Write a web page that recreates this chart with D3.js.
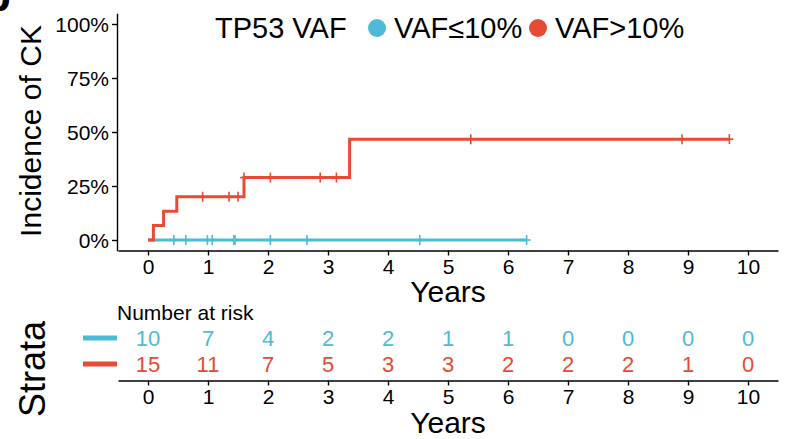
<!DOCTYPE html>
<html>
<head>
<meta charset="utf-8">
<script src="https://cdn.jsdelivr.net/npm/d3@7"></script>
<style>
  body { margin: 0; background: #fff; }
  svg { display: block; font-family: "Liberation Sans", Arial, sans-serif; }
  .axis path, .axis line { stroke: #000; stroke-width: 1.4; }
  .axis text { fill: #000; font-size: 21px; font-family: "Liberation Sans", Arial, sans-serif; }
</style>
</head>
<body>
<svg id="viz"></svg>
<script>
// tick labels
const xTicks = [0, 1, 2, 3, 4, 5, 6, 7, 8, 9, 10]
const yTicks = [0, 0.25, 0.5, 0.75, 1]

const groups = ["VAF≤10%", "VAF>10%"]
const colors = ["#4DBBD5", "#E64B35"]

// step curves (time in years, cumulative incidence)
const lowTime = [0, 6.31]
const lowInc = [0, 0]
const highTime = [0, 0.09, 0.26, 0.48, 1.6, 3.36, 9.69]
const highInc = [0, 0.067, 0.133, 0.2, 0.289, 0.467, 0.467]

// censor marks
const lowCensor = [0.43, 0.63, 0.99, 1.07, 1.43, 1.45, 2.04, 2.65, 4.53, 6.31]
const highCensor = [0.91, 1.35, 1.5, 1.6, 2.04, 2.87, 3.14, 5.38, 8.9, 9.69]

// number at risk
const lowRisk = [10, 7, 4, 2, 2, 1, 1, 0, 0, 0, 0]
const highRisk = [15, 11, 7, 5, 3, 3, 2, 2, 2, 1, 0]

const W = 785, H = 439
const svg = d3.select("#viz").attr("width", W).attr("height", H)

const x = d3.scaleLinear().domain([-0.5, 10.5]).range([118, 778])
const y = d3.scaleLinear().domain([-0.05, 1.05]).range([250.8, 13.2])

// panel letter, mostly cut off
svg.append("text")
  .attr("x", -16).attr("y", 11)
  .attr("font-size", 44).attr("font-weight", "bold")
  .text("b")

// axes
svg.append("g").attr("class", "axis")
  .attr("transform", "translate(117,0)")
  .call(d3.axisLeft(y).tickValues(yTicks).tickFormat(d3.format(".0%")).tickSize(5).tickSizeOuter(0).tickPadding(3))
  .selectAll("text").attr("dy", "0.36em")

svg.append("g").attr("class", "axis")
  .attr("transform", "translate(0,250.5)")
  .call(d3.axisBottom(x).tickValues(xTicks).tickSize(5).tickSizeOuter(0).tickPadding(3))
  .selectAll("text").attr("dy", "0.72em")

svg.append("text")
  .attr("transform", "translate(41,131) rotate(-90)")
  .attr("text-anchor", "middle")
  .attr("font-size", 30)
  .text("Incidence of CK")

svg.append("text")
  .attr("x", 448).attr("y", 302)
  .attr("text-anchor", "middle")
  .attr("font-size", 30)
  .text("Years")

// curves
const line = d3.line()
  .x((d) => x(d[0]))
  .y((d) => y(d[1]))
  .curve(d3.curveStepAfter)

const series = [
  { time: lowTime, inc: lowInc, censor: lowCensor, color: colors[0] },
  { time: highTime, inc: highInc, censor: highCensor, color: colors[1] },
]

series.forEach((s) => {
  const pts = s.time.map((t, i) => [t, s.inc[i]])
  svg.append("path")
    .attr("d", line(pts))
    .attr("fill", "none")
    .attr("stroke", s.color)
    .attr("stroke-width", 3)

  const incAt = (t) => s.inc[Math.max(0, d3.bisectRight(s.time, t) - 1)]
  const g = svg.append("g").attr("stroke", s.color).attr("stroke-width", 1.6)
  s.censor.forEach((t) => {
    const cx = x(t), cy = y(incAt(t))
    g.append("line").attr("x1", cx).attr("x2", cx).attr("y1", cy - 5).attr("y2", cy + 5)
    g.append("line").attr("x1", cx - 4).attr("x2", cx + 4).attr("y1", cy).attr("y2", cy)
  })
})

// legend
const legend = svg.append("g").attr("font-size", 29)
legend.append("text").attr("x", 215).attr("y", 38).text("TP53 VAF")
const legX = [377, 538]
groups.forEach((name, i) => {
  legend.append("circle").attr("cx", legX[i]).attr("cy", 28).attr("r", 9).attr("fill", colors[i])
  legend.append("text").attr("x", legX[i] + 17).attr("y", 38).text(name)
})

// risk table
svg.append("text")
  .attr("x", 117).attr("y", 320)
  .attr("font-size", 21)
  .text("Number at risk")

const rowY = [338, 364]
const risks = [lowRisk, highRisk]
risks.forEach((r, i) => {
  svg.append("line")
    .attr("x1", 83).attr("x2", 117)
    .attr("y1", rowY[i]).attr("y2", rowY[i])
    .attr("stroke", colors[i]).attr("stroke-width", 5)
  svg.append("g").selectAll("text")
    .data(r)
    .join("text")
    .attr("x", (d, j) => x(xTicks[j]))
    .attr("y", rowY[i])
    .attr("dy", "0.36em")
    .attr("text-anchor", "middle")
    .attr("font-size", 22)
    .attr("fill", colors[i])
    .text((d) => d)
})

svg.append("g").attr("class", "axis")
  .attr("transform", "translate(0,380.5)")
  .call(d3.axisBottom(x).tickValues(xTicks).tickSize(5).tickSizeOuter(0).tickPadding(3))
  .selectAll("text").attr("dy", "0.72em")

svg.append("text")
  .attr("x", 448).attr("y", 433)
  .attr("text-anchor", "middle")
  .attr("font-size", 30)
  .text("Years")

svg.append("text")
  .attr("transform", "translate(45,369) rotate(-90)")
  .attr("text-anchor", "middle")
  .attr("font-size", 36)
  .text("Strata")
</script>
</body>
</html>
